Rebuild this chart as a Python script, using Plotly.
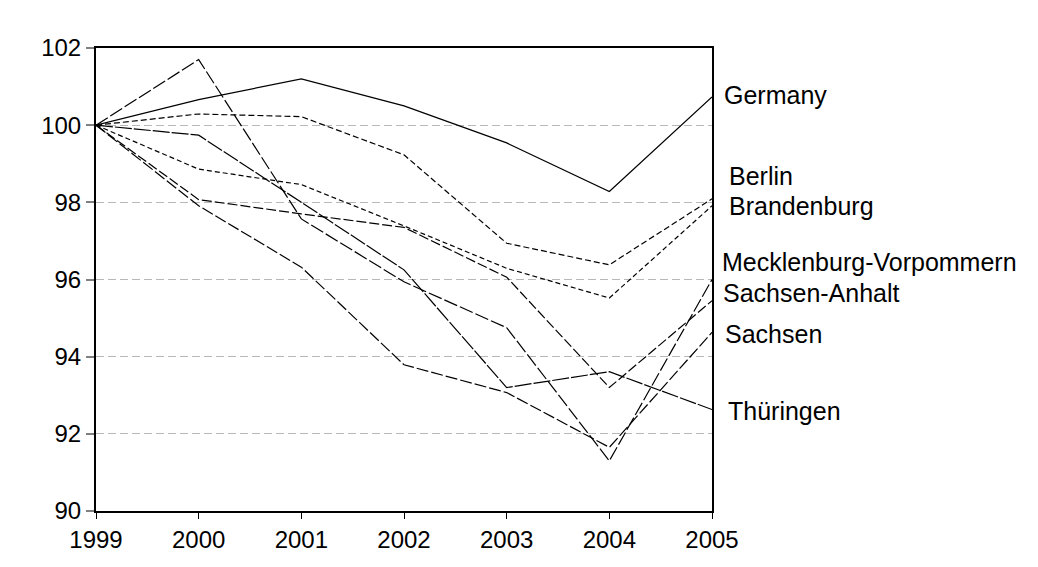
import plotly.graph_objects as go

years = [1999, 2000, 2001, 2002, 2003, 2004, 2005]

germany = [100.0, 100.66, 101.20, 100.50, 99.54, 98.28, 100.73]
berlin = [100.0, 100.29, 100.22, 99.23, 96.94, 96.38, 98.09]
brandenburg = [100.0, 98.86, 98.46, 97.39, 96.29, 95.52, 97.91]
mecklenburg = [100.0, 101.70, 97.57, 95.94, 94.75, 91.30, 96.00]
sachsen_anhalt = [100.0, 98.07, 97.70, 97.35, 96.06, 93.20, 95.45]
sachsen = [100.0, 97.91, 96.32, 93.79, 93.07, 91.65, 94.63]
thueringen = [100.0, 99.74, 98.00, 96.25, 93.20, 93.61, 92.63]

names = ["Germany", "Berlin", "Brandenburg", "Mecklenburg-Vorpommern",
         "Sachsen-Anhalt", "Sachsen", "Thüringen"]
series = [germany, berlin, brandenburg, mecklenburg, sachsen_anhalt, sachsen, thueringen]

y_ticks = [90, 92, 94, 96, 98, 100, 102]

dashes = ["solid", "6px,3px", "5px,3px", "14px,3px", "10px,3px", "12px,3px", "17px,2px"]
label_shift = [2, 23, 0, 18, 8, -2, -1]
label_xshift = [10, 15, 15, 8, 9, 11, 14]

FONT = "Liberation Sans, Arial, sans-serif"

fig = go.Figure()
for name, vals, dash in zip(names, series, dashes):
    fig.add_trace(go.Scatter(x=years, y=vals, mode="lines", name=name,
                             line=dict(color="black", width=1.2, dash=dash),
                             showlegend=False, hoverinfo="skip"))

for name, vals, ys, xs in zip(names, series, label_shift, label_xshift):
    fig.add_annotation(x=years[-1], y=vals[-1], xref="x", yref="y", text=name,
                       showarrow=False, xanchor="left", yanchor="middle",
                       xshift=xs, yshift=ys,
                       font=dict(family=FONT, size=25, color="black"))

fig.update_layout(
    width=1038, height=567,
    margin=dict(l=88, r=334, t=40, b=64, autoexpand=False),
    paper_bgcolor="white", plot_bgcolor="white",
    font=dict(family=FONT, size=24, color="black"),
)
fig.update_xaxes(range=[1999, 2005], tickvals=years, ticktext=[str(y) for y in years],
                 showgrid=False, zeroline=False, automargin=False,
                 showline=True, linecolor="black", linewidth=2, mirror=True,
                 ticks="outside", ticklen=6, tickcolor="black", tickwidth=1,
                 tickfont=dict(family=FONT, size=24, color="black"))
fig.update_yaxes(range=[90, 102], tickvals=y_ticks, ticktext=[str(v) for v in y_ticks],
                 showgrid=True, gridcolor="#b8b8b8", gridwidth=1, griddash="8px,4px",
                 zeroline=False, automargin=False,
                 showline=True, linecolor="black", linewidth=2, mirror=True,
                 ticks="outside", ticklen=8, tickcolor="#808080", tickwidth=2,
                 tickfont=dict(family=FONT, size=24, color="black"))

fig.write_html("out.html")
